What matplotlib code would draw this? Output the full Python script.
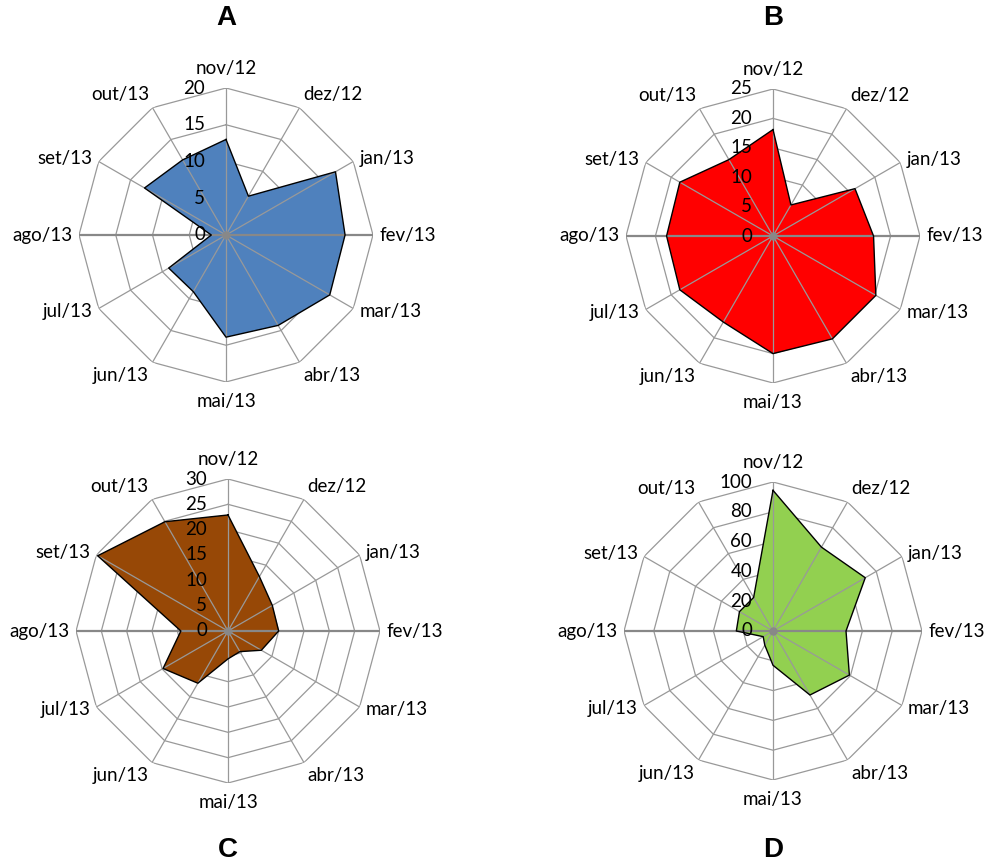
import numpy as np
import matplotlib
matplotlib.use("Agg")
import matplotlib.pyplot as plt

categories = ["nov/12", "dez/12", "jan/13", "fev/13", "mar/13", "abr/13",
              "mai/13", "jun/13", "jul/13", "ago/13", "set/13", "out/13"]

values_A = [13.0, 6.1, 17.2, 16.2, 16.3, 14.2, 13.9, 8.9, 9.0, 2.0, 12.8, 11.8]
values_B = [18.1, 6.1, 16.1, 17.1, 20.2, 20.2, 20.0, 16.9, 18.3, 18.1, 18.3, 15.0]
values_C = [22.9, 12.4, 10.1, 10.0, 7.6, 4.7, 5.5, 11.9, 14.8, 9.3, 29.7, 24.9]
values_D = [94.4, 65.0, 71.5, 49.0, 59.2, 49.6, 23.0, 11.0, 7.6, 24.6, 26.0, 26.0]

ticks_A = [0, 5, 10, 15, 20]
ticks_B = [0, 5, 10, 15, 20, 25]
ticks_C = [0, 5, 10, 15, 20, 25, 30]
ticks_D = [0, 20, 40, 60, 80, 100]

panel_letters = ["A", "B", "C", "D"]

W, H = 989, 865
fig = plt.figure(figsize=(W / 100, H / 100), dpi=100)
fig.patch.set_facecolor("white")

FONT = "Lato"
FS = 13.5

def radar(center, R, values, ticks, color, letter, letter_y):
    cx, cy = center
    ax = fig.add_axes([(cx - R) / W, 1 - (cy + R) / H, 2 * R / W, 2 * R / H],
                      projection="polar")
    ax.set_theta_zero_location("N")
    ax.set_theta_direction(-1)
    ax.set_ylim(0, ticks[-1])
    ax.grid(False)
    ax.set_xticks([])
    ax.set_yticks([])
    ax.spines["polar"].set_visible(False)
    ax.patch.set_alpha(0)

    n = len(categories)
    theta = np.arange(n) * 2 * np.pi / n
    tclosed = np.append(theta, theta[0])

    # ring gridlines (polygonal)
    for t in ticks[1:]:
        ax.plot(tclosed, [t] * (n + 1), color="#999999", lw=0.9, zorder=1)

    # data polygon
    vals = np.append(values, values[0])
    ax.fill(tclosed, vals, color=color, zorder=2, lw=0)
    ax.plot(tclosed, vals, color="black", lw=1.0, zorder=4)

    # spokes
    for i, th in enumerate(theta):
        if i in (3, 9):
            ax.plot([th, th], [0, ticks[-1]], color="#888888", lw=1.6, zorder=3)
        else:
            ax.plot([th, th], [0, ticks[-1]], color="#999999", lw=0.9, zorder=3)
    ax.plot([0], [0], "o", color="#888888", ms=5, zorder=5)

    # value labels
    for t in ticks:
        ax.annotate(str(t), xy=(0, t), xytext=(-15, 0), textcoords="offset points",
                    ha="right", va="center", fontsize=FS, family=FONT,
                    color="black", zorder=6, annotation_clip=False)

    # category labels
    for th, lab in zip(theta, categories):
        s, c = np.sin(th), np.cos(th)
        ha = "left" if s > 0.3 else ("right" if s < -0.3 else "center")
        va = "bottom" if c > 0.6 else ("top" if c < -0.6 else "center")
        off_y = 8 * c if abs(c) > 0.9 else 4 * c
        ax.annotate(lab, xy=(th, ticks[-1]), xytext=(5 * s, off_y),
                    textcoords="offset points", ha=ha, va=va, fontsize=FS,
                    family=FONT, color="black", annotation_clip=False)

    fig.text(cx / W, 1 - letter_y / H, letter, ha="center", va="center",
             fontsize=20, fontweight="bold", family="Liberation Sans")

radar((226, 235), 147, values_A, ticks_A, "#4F81BD", panel_letters[0], 18)
radar((773, 236), 147, values_B, ticks_B, "#FF0000", panel_letters[1], 18)
radar((228, 631), 152, values_C, ticks_C, "#974806", panel_letters[2], 850)
radar((773, 631), 149, values_D, ticks_D, "#92D050", panel_letters[3], 850)

fig.savefig("out.png", dpi=100, facecolor="white")
